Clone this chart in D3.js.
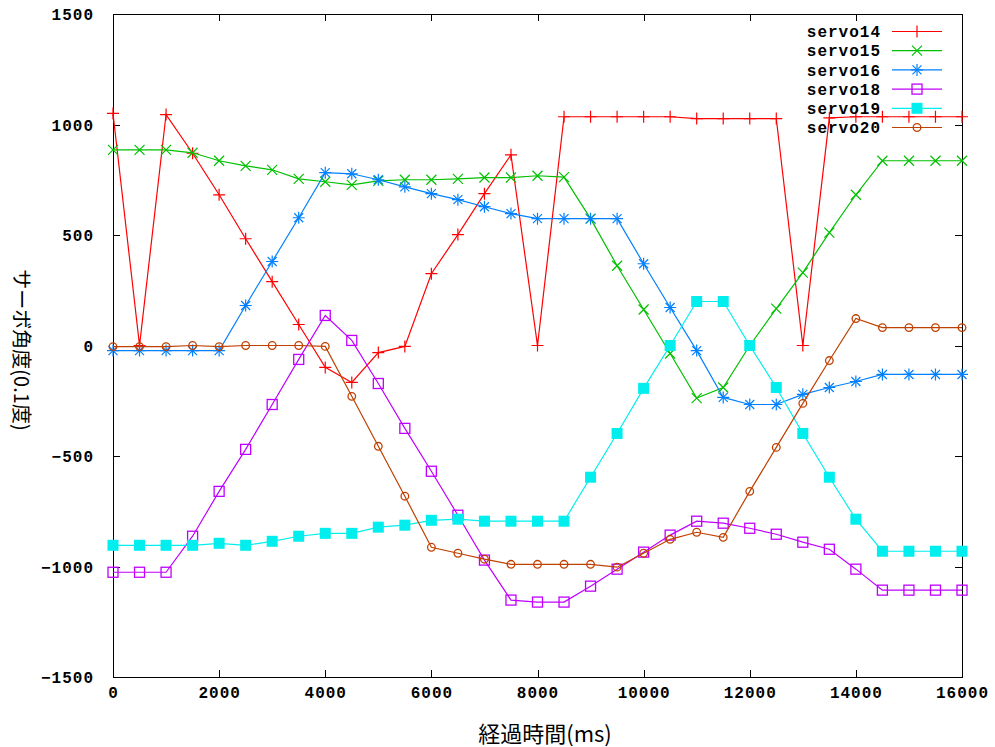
<!DOCTYPE html>
<html>
<head>
<meta charset="utf-8">
<script src="https://cdn.jsdelivr.net/npm/d3@7/dist/d3.min.js"></script>
<style>
  body { margin: 0; background: #fff; }
  .tick text { font-family: "Liberation Mono", "DejaVu Sans Mono", monospace; font-weight: bold; font-size: 16px; letter-spacing: 1px; fill: #000; }
</style>
</head>
<body>
<div id="chart"></div>
<script>
// time axis, every 500 ms
var times = d3.range(0, 16001, 500);

var servo14 = [1050, 0, 1045, 870, 682, 483, 289, 95, -99, -167, -32, -4, 325, 502, 687, 863, 0,
               1035, 1035, 1035, 1035, 1035, 1027, 1027, 1027, 1027, 0, 1030, 1035, 1035, 1035, 1035, 1035];
var servo15 = [885, 885, 885, 872, 836, 813, 795, 754, 741, 727, 745, 750, 750, 754, 760, 760, 768,
               762, 574, 361, 163, -36, -238, -190, 0, 167, 330, 511, 682, 836, 836, 836, 836];
var servo16 = [-23, -23, -23, -23, -23, 181, 380, 578, 782, 777, 750, 718, 687, 660, 628, 597, 574,
               574, 574, 574, 370, 172, -23, -235, -267, -267, -221, -190, -163, -131, -131, -131, -131];
var servo18 = [-1026, -1026, -1026, -863, -660, -470, -267, -63, 136, 23, -172, -375, -569, -768, -971, -1152, -1161,
               -1161, -1089, -1012, -935, -858, -795, -804, -827, -854, -890, -922, -1012, -1107, -1107, -1107, -1107];
var servo19 = [-904, -904, -904, -904, -895, -904, -886, -863, -850, -850, -822, -813, -791, -786, -795, -795, -795,
               -795, -596, -398, -194, 0, 199, 199, 0, -190, -398, -596, -786, -931, -931, -931, -931];
var servo20 = [-5, -5, -5, 0, -5, 0, 0, 0, -4, -230, -456, -682, -913, -940, -967, -990, -990,
               -990, -990, -1003, -940, -877, -845, -868, -660, -461, -262, -68, 122, 81, 81, 81, 81];

var seriesNames = ["servo14", "servo15", "servo16", "servo18", "servo19", "servo20"];
var seriesValues = [servo14, servo15, servo16, servo18, servo19, servo20];
var seriesColors = ["#ff0000", "#00c000", "#0080ff", "#c000ff", "#00eeee", "#c04000"];
var seriesMarks = ["plus", "cross", "star", "box", "fbox", "circle"];

var xTicks = d3.range(0, 16001, 2000);
var yTicks = d3.range(-1500, 1501, 500);

var width = 995, height = 747,
    margin = {left: 113, right: 33, top: 14, bottom: 70};

var svg = d3.select("#chart").append("svg")
    .attr("width", width)
    .attr("height", height);

var x = d3.scaleLinear().domain([0, 16000]).range([margin.left, width - margin.right]);
var y = d3.scaleLinear().domain([-1500, 1500]).range([height - margin.bottom, margin.top]);
var fmt = d3.format("d");

// ticks on all four sides, pointing inward like gnuplot
var tl = 7;
svg.append("g")
    .attr("transform", "translate(0," + y(-1500) + ")")
    .call(d3.axisBottom(x).tickValues(xTicks).tickFormat(fmt).tickSizeInner(-tl).tickSizeOuter(0).tickPadding(15))
    .call(function(g) { g.select(".domain").remove(); });
svg.append("g")
    .attr("transform", "translate(0," + y(1500) + ")")
    .call(d3.axisTop(x).tickValues(xTicks).tickSizeInner(-tl).tickSizeOuter(0).tickFormat(""))
    .call(function(g) { g.select(".domain").remove(); });
svg.append("g")
    .attr("transform", "translate(" + x(0) + ",0)")
    .call(d3.axisLeft(y).tickValues(yTicks).tickFormat(fmt).tickSizeInner(-tl).tickSizeOuter(0).tickPadding(19))
    .call(function(g) { g.select(".domain").remove(); });
svg.append("g")
    .attr("transform", "translate(" + x(16000) + ",0)")
    .call(d3.axisRight(y).tickValues(yTicks).tickSizeInner(-tl).tickSizeOuter(0).tickFormat(""))
    .call(function(g) { g.select(".domain").remove(); });

svg.selectAll(".tick line").attr("stroke", "#000").attr("shape-rendering", "crispEdges");
svg.selectAll(".tick text").attr("dy", "0.36em");

svg.append("rect")
    .attr("x", x(0)).attr("y", y(1500))
    .attr("width", x(16000) - x(0)).attr("height", y(-1500) - y(1500))
    .attr("fill", "none").attr("stroke", "#000").attr("stroke-width", 1)
    .attr("shape-rendering", "crispEdges");

// marker drawing
var drawMark = function(g, kind, cx, cy, color) {
    var s;
    if (kind == "plus" || kind == "star") {
        s = 6;
        g.append("path").attr("d", "M" + (cx - s) + "," + cy + "H" + (cx + s) + "M" + cx + "," + (cy - s) + "V" + (cy + s))
            .attr("stroke", color).attr("stroke-width", 1.2).attr("fill", "none");
    }
    if (kind == "cross" || kind == "star") {
        s = kind == "star" ? 4.5 : 5;
        g.append("path").attr("d", "M" + (cx - s) + "," + (cy - s) + "L" + (cx + s) + "," + (cy + s) +
                                   "M" + (cx - s) + "," + (cy + s) + "L" + (cx + s) + "," + (cy - s))
            .attr("stroke", color).attr("stroke-width", 1.2).attr("fill", "none");
    }
    if (kind == "box") {
        g.append("rect").attr("x", cx - 5).attr("y", cy - 5).attr("width", 10).attr("height", 10)
            .attr("stroke", color).attr("stroke-width", 1.3).attr("fill", "none");
    }
    if (kind == "fbox") {
        g.append("rect").attr("x", cx - 5.5).attr("y", cy - 5.5).attr("width", 11).attr("height", 11)
            .attr("fill", color);
    }
    if (kind == "circle") {
        g.append("circle").attr("cx", cx).attr("cy", cy).attr("r", 3.8)
            .attr("stroke", color).attr("stroke-width", 1.3).attr("fill", "none");
    }
};

var line = d3.line()
    .x(function(d) { return x(d[0]); })
    .y(function(d) { return y(d[1]); });

for (var i = 0; i < seriesNames.length; i++) {
    var pts = times.map(function(t, j) { return [t, seriesValues[i][j]]; });
    var g = svg.append("g");
    g.append("path")
        .attr("d", line(pts))
        .attr("fill", "none")
        .attr("stroke", seriesColors[i])
        .attr("stroke-width", 1.2);
    for (var j = 0; j < pts.length; j++) {
        drawMark(g, seriesMarks[i], x(pts[j][0]), y(pts[j][1]), seriesColors[i]);
    }

    // legend entry
    var ly = 31.5 + i * 19.2;
    var lg = svg.append("g");
    lg.append("text")
        .attr("x", 881).attr("y", ly).attr("dy", "0.36em")
        .attr("text-anchor", "end")
        .style("font-family", "'Liberation Mono', 'DejaVu Sans Mono', monospace")
        .style("font-weight", "bold").style("font-size", "16px").style("letter-spacing", "1px")
        .text(seriesNames[i]);
    lg.append("line")
        .attr("x1", 892).attr("x2", 942).attr("y1", ly).attr("y2", ly)
        .attr("stroke", seriesColors[i]).attr("stroke-width", 1.2);
    drawMark(lg, seriesMarks[i], 917, ly, seriesColors[i]);
}

// axis titles
svg.append("text")
    .attr("x", 545).attr("y", 742)
    .attr("text-anchor", "middle")
    .style("font-family", "'Noto Sans CJK JP', sans-serif")
    .style("font-size", "22px")
    .text("経過時間(ms)");

svg.append("text")
    .attr("transform", "translate(14,350) rotate(90)")
    .attr("text-anchor", "middle")
    .style("font-family", "'Noto Sans CJK JP', sans-serif")
    .style("font-size", "20px")
    .text("サーボ角度(0.1度)");
</script>
</body>
</html>
